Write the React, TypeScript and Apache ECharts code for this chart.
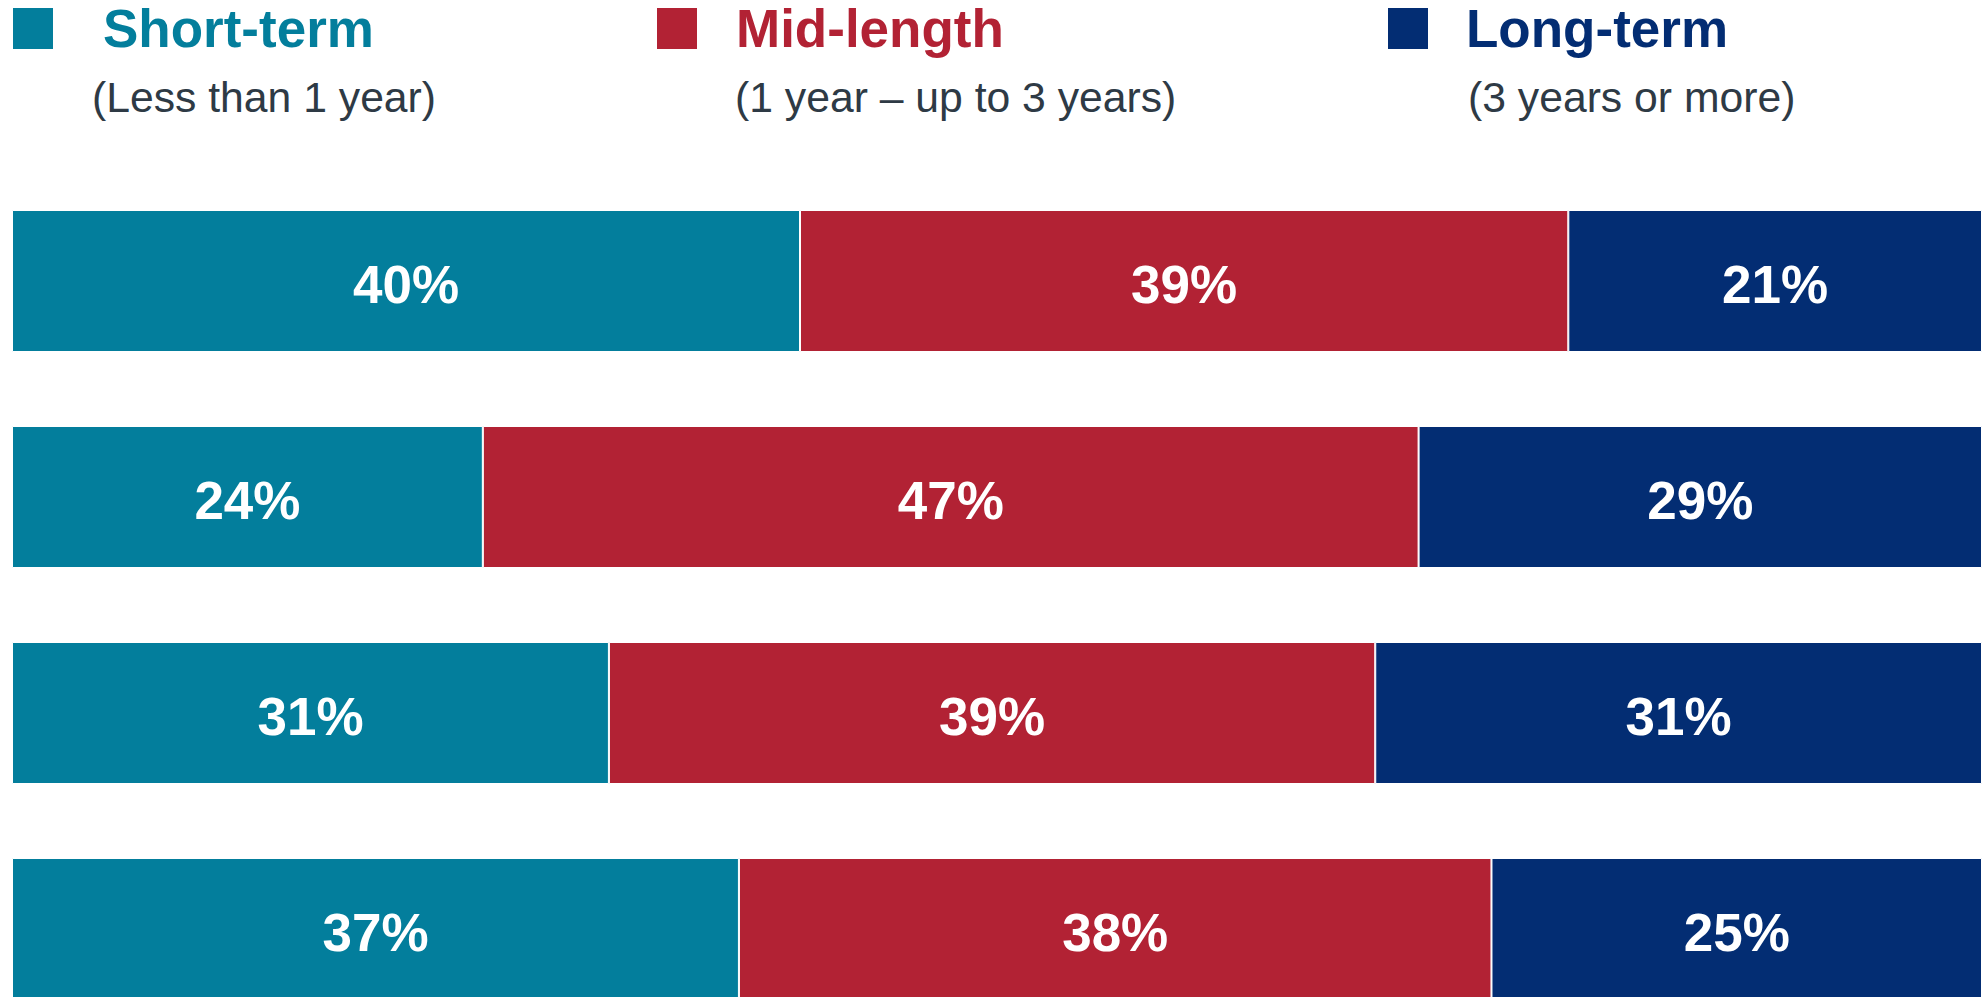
import React, { useEffect, useRef } from "react";
import * as echarts from "echarts";

const categories = ["Row 1", "Row 2", "Row 3", "Row 4"];
const seriesNames = ["Short-term", "Mid-length", "Long-term"];
const subtitles = ["(Less than 1 year)", "(1 year \u2013 up to 3 years)", "(3 years or more)"];
const shortTerm = [40, 23.9, 30.3, 36.9];
const midLength = [39, 47.5, 38.9, 38.2];
const longTerm = [21, 28.6, 30.8, 24.9];
const shortLabels = ["40%", "24%", "31%", "37%"];
const midLabels = ["39%", "47%", "39%", "38%"];
const longLabels = ["21%", "29%", "31%", "25%"];

const colors = ["#037E9C", "#B22234", "#032D73"];
const FONT = "'Liberation Sans', Arial, Helvetica, sans-serif";

export default function App() {
  const ref = useRef<HTMLDivElement>(null);
  useEffect(() => {
    if (!ref.current) return;
    const chart = echarts.init(ref.current, undefined, { renderer: "svg" });
    const values = [shortTerm, midLength, longTerm];
    const labels = [shortLabels, midLabels, longLabels];
    const legendLeft = [11, 655, 1386];
    const legendPad = [44, 33, 32];
    const subLeft = [92, 735, 1468];
    chart.setOption({
      animation: false,
      backgroundColor: "#ffffff",
      legend: seriesNames.map((n, i) => ({
        data: [n],
        left: legendLeft[i],
        top: 2,
        padding: 0,
        icon: "rect",
        itemWidth: 42,
        itemHeight: 43,
        selectedMode: false,
        textStyle: {
          color: colors[i],
          fontSize: 53,
          fontWeight: "bold",
          fontFamily: FONT,
          padding: [0, 0, 0, legendPad[i]],
        },
      })),
      graphic: subtitles.map((s, i) => ({
        type: "text",
        left: subLeft[i],
        top: 75,
        style: {
          text: s,
          fill: "#2E3A45",
          fontSize: 42.7,
          fontFamily: FONT,
        },
      })),
      grid: { left: 12, right: 4, top: 173, height: 864, containLabel: false },
      xAxis: { type: "value", min: 0, max: 100, show: false },
      yAxis: {
        type: "category",
        data: categories,
        inverse: true,
        show: false,
      },
      series: seriesNames.map((n, i) => ({
        name: n,
        type: "bar",
        stack: "total",
        barWidth: 142,
        data: values[i],
        itemStyle: { color: colors[i], borderColor: "#ffffff", borderWidth: 1 },
        label: {
          show: true,
          position: "inside",
          offset: [0, 3],
          color: "#ffffff",
          fontSize: 53,
          fontWeight: "bold",
          fontFamily: FONT,
          formatter: (p: any) => labels[i][p.dataIndex],
        },
      })),
    });
    return () => chart.dispose();
  }, []);
  return (
    <div
      style={{
        position: "fixed",
        left: 0,
        top: 0,
        width: 1986,
        height: 997,
        overflow: "hidden",
        background: "#ffffff",
      }}
    >
      <div ref={ref} style={{ width: 1986, height: 1040 }} />
    </div>
  );
}
